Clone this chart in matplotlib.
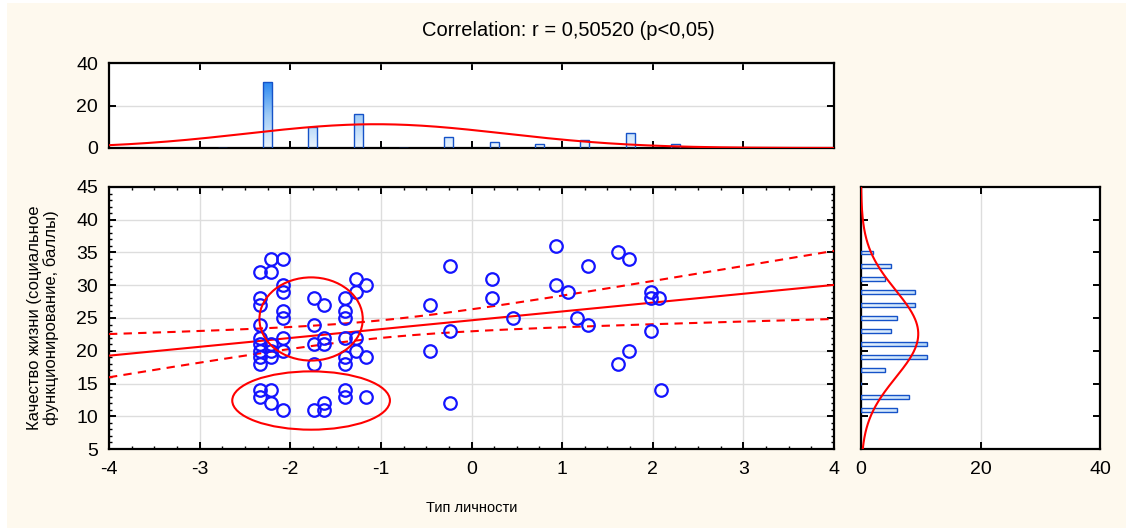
import numpy as np
import matplotlib
matplotlib.use("Agg")
import matplotlib.pyplot as plt
from matplotlib.patches import Ellipse, Rectangle
from matplotlib.ticker import MultipleLocator

plt.rcParams['font.family'] = ['Liberation Sans', 'DejaVu Sans']
plt.rcParams['axes.unicode_minus'] = False

# Scatter: personality type (x) vs quality of life, social functioning (y)
x_vals = [-2.33, -2.33, -2.33, -2.33, -2.33, -2.33, -2.33, -2.33, -2.33, -2.33, -2.33,
          -2.21, -2.21, -2.21, -2.21, -2.21, -2.21, -2.21,
          -2.08, -2.08, -2.08, -2.08, -2.08, -2.08, -2.08, -2.08,
          -1.74, -1.74, -1.74, -1.74, -1.74,
          -1.63, -1.63, -1.63, -1.63, -1.63,
          -1.40, -1.40, -1.40, -1.40, -1.40, -1.40, -1.40, -1.40,
          -1.28, -1.28, -1.28, -1.28,
          -1.16, -1.16, -1.16,
          -0.46, -0.46, -0.24, -0.24, -0.24, 0.23, 0.23, 0.46,
          0.93, 0.93, 1.07, 1.16, 1.28, 1.28, 1.62, 1.74, 1.62, 1.74,
          1.98, 1.98, 2.07, 1.98, 2.09]
y_vals = [32, 28, 27, 24, 22, 21, 20, 19, 18, 14, 13,
          34, 32, 21, 20, 19, 14, 12,
          34, 30, 29, 26, 25, 22, 20, 11,
          28, 24, 21, 18, 11,
          27, 22, 21, 12, 11,
          28, 26, 25, 22, 19, 18, 14, 13,
          31, 29, 22, 20,
          30, 19, 13,
          27, 20, 33, 23, 12, 31, 28, 25,
          36, 30, 29, 25, 33, 24, 35, 34, 18, 20,
          29, 28, 28, 23, 14]

# Marginal histogram of x (bin width 0.5)
x_bin_centers = [-2.75, -2.25, -1.75, -1.25, -0.75, -0.25, 0.25, 0.75, 1.25, 1.75, 2.25, 2.75]
x_counts = [0, 31, 10, 16, 0, 5, 3, 2, 4, 7, 2, 0]
x_bin_width = 0.5

# Marginal histogram of y (bin width 2)
y_bin_centers = [11, 13, 15, 17, 19, 21, 23, 25, 27, 29, 31, 33, 35]
y_counts = [6, 8, 0, 4, 11, 11, 5, 6, 9, 9, 4, 5, 2]
y_bin_width = 2

# Fitted regression line and its 95% confidence band
intercept = 24.65
slope = 1.35
ci_x_mean = -1.0
ci_a = 1.8     # (t*s)^2 / n
ci_b = 1.01    # (t*s)^2 / Sxx

# Highlighted groups
groups = [(-1.77, 24.85, 1.14, 12.7), (-1.77, 12.4, 1.74, 8.9)]

title = "Correlation: r = 0,50520 (p<0,05)"
xlabel = "Тип личности"
ylabel = "Качество жизни (социальное\nфункционирование, баллы)"

BG = "#fef9ee"
RED = "#ff0000"
GRID = "#dddddd"
BAR_EDGE = "#1552c8"

W, H = 1126, 528
fig = plt.figure(figsize=(W / 100, H / 100), dpi=100)
fig.patch.set_facecolor("white")
fig.patches.append(Rectangle((7 / W, 0), 1 - 7 / W, 1 - 3 / H, transform=fig.transFigure,
                             facecolor=BG, edgecolor="none", zorder=-10))


def px_axes(left, top, right, bottom):
    return fig.add_axes([left / W, 1 - bottom / H, (right - left) / W, (bottom - top) / H])


ax = px_axes(109, 187, 834, 449)
ax_top = px_axes(109, 63, 834, 148)
ax_right = px_axes(861, 187, 1100, 449)

grad_cmap = matplotlib.colors.LinearSegmentedColormap.from_list(
    "bar", ["#eaf4fe", "#9fcbf6", "#2a88f2"])


def style(a):
    a.set_facecolor("white")
    for s in a.spines.values():
        s.set_linewidth(1.6)
        s.set_color("black")
    a.tick_params(which="both", direction="in", top=True, right=True,
                  labelsize=14, pad=8, color="black")
    a.tick_params(which="major", length=5, width=1.4)
    a.tick_params(which="minor", length=2.5, width=1.0)
    a.set_axisbelow(True)


# --- main scatter ---
style(ax)
ax.set_xlim(-4, 4)
ax.set_ylim(5, 45)
ax.xaxis.set_major_locator(MultipleLocator(1))
ax.xaxis.set_minor_locator(MultipleLocator(0.25))
ax.yaxis.set_major_locator(MultipleLocator(5))
ax.yaxis.set_minor_locator(MultipleLocator(1))
ax.grid(True, which="major", color=GRID, linewidth=1.0)
ax.tick_params(axis="x", pad=9)

xs = np.linspace(-4, 4, 200)
fit = intercept + slope * xs
band = np.sqrt(ci_a + ci_b * (xs - ci_x_mean) ** 2)
ax.plot(xs, fit, color=RED, lw=1.5, zorder=3)
ax.plot(xs, fit + band, color=RED, lw=1.5, dashes=(4, 3), zorder=3)
ax.plot(xs, fit - band, color=RED, lw=1.5, dashes=(4, 3), zorder=3)

ax.plot(x_vals, y_vals, "o", mfc="none", mec="#1414ff", mew=1.6, ms=9, zorder=4)

for cx, cy, w, h in groups:
    ax.add_patch(Ellipse((cx, cy), w, h, fill=False, edgecolor=RED, lw=1.5, zorder=5))

ax.set_xlabel(xlabel, fontsize=10.5, labelpad=16,
              family=["Liberation Sans Narrow", "Liberation Sans"])
ax.set_ylabel(ylabel, fontsize=12, labelpad=12, linespacing=1.15)

# --- top histogram ---
style(ax_top)
ax_top.set_xlim(-4, 4)
ax_top.set_ylim(0, 40)
ax_top.set_yticks([0, 20, 40])
ax_top.xaxis.set_major_locator(MultipleLocator(1))
ax_top.tick_params(axis="x", labelbottom=False)
ax_top.grid(True, axis="y", color=GRID, linewidth=1.0)
bw = 0.1
for c, n in zip(x_bin_centers, x_counts):
    rect = Rectangle((c - bw / 2, 0), bw, n, facecolor="none", edgecolor=BAR_EDGE,
                     lw=1.0, zorder=3)
    ax_top.add_patch(rect)
    if n > 0:
        im = ax_top.imshow(np.linspace(0, 1, 100)[::-1, None] * 40 / 31,
                           extent=[c - bw / 2, c + bw / 2, 0, 40], cmap=grad_cmap,
                           vmin=0, vmax=1, aspect="auto", zorder=2)
        im.set_clip_path(rect)
ax_top.set_xlim(-4, 4)
ax_top.set_ylim(0, 40)
xn = np.linspace(-4, 4, 300)
xc = np.array(x_bin_centers)
xw = np.array(x_counts)
mx = (xc * xw).sum() / xw.sum()
sx = np.sqrt((xw * (xc - mx) ** 2).sum() / xw.sum())
ax_top.plot(xn, xw.sum() * x_bin_width / (sx * np.sqrt(2 * np.pi)) *
            np.exp(-0.5 * ((xn - mx) / sx) ** 2), color=RED, lw=1.5, zorder=4)

# --- right histogram ---
style(ax_right)
ax_right.set_xlim(0, 40)
ax_right.set_ylim(5, 45)
ax_right.set_xticks([0, 20, 40])
ax_right.yaxis.set_major_locator(MultipleLocator(5))
ax_right.tick_params(axis="y", labelleft=False)
ax_right.tick_params(axis="x", pad=9)
ax_right.grid(True, axis="x", color=GRID, linewidth=1.0)
bh = 0.6
for c, n in zip(y_bin_centers, y_counts):
    rect = Rectangle((0, c - bh / 2), n, bh, facecolor="none", edgecolor=BAR_EDGE,
                     lw=1.0, zorder=3)
    ax_right.add_patch(rect)
    if n > 0:
        im = ax_right.imshow(np.linspace(0, 1, 100)[None, :] * 40 / 31,
                             extent=[0, 40, c - bh / 2, c + bh / 2], cmap=grad_cmap,
                             vmin=0, vmax=1, aspect="auto", zorder=2)
        im.set_clip_path(rect)
ax_right.set_xlim(0, 40)
ax_right.set_ylim(5, 45)
yn = np.linspace(5, 45, 300)
yc = np.array(y_bin_centers)
yw = np.array(y_counts)
my = (yc * yw).sum() / yw.sum()
sy = np.sqrt((yw * (yc - my) ** 2).sum() / yw.sum())
ax_right.plot(yw.sum() * y_bin_width / (sy * np.sqrt(2 * np.pi)) *
              np.exp(-0.5 * ((yn - my) / sy) ** 2), yn, color=RED, lw=1.5, zorder=4)

fig.text(568 / W, 1 - 31 / H, title, ha="center", va="center", fontsize=14.5)

fig.savefig("out.png", dpi=100, facecolor=fig.get_facecolor())
